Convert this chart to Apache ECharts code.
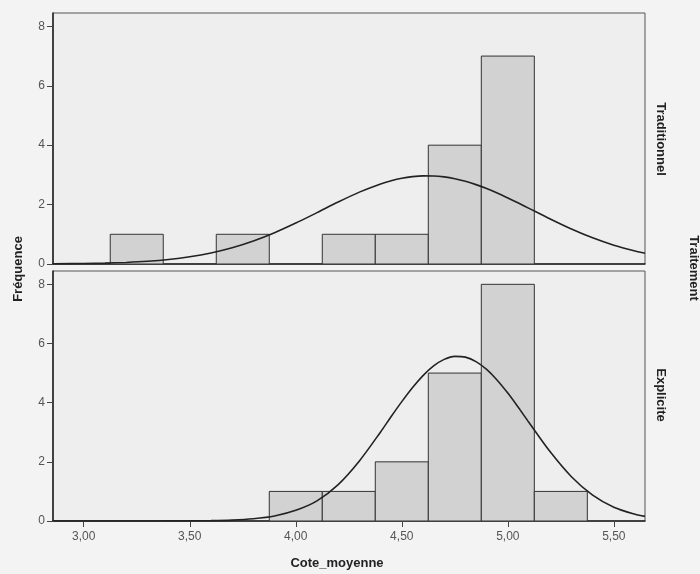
<!DOCTYPE html>
<html>
<head>
<meta charset="utf-8">
<script src="https://cdn.jsdelivr.net/npm/echarts@6/dist/echarts.min.js"></script>
<style>
html,body{margin:0;padding:0;background:#f3f3f3;}
#chart{width:700px;height:574px;}
</style>
</head>
<body>
<div id="chart"></div>
<script>
// Bin centres (Cote_moyenne) and counts for each panel
var binCenters = [3.25, 3.50, 3.75, 4.00, 4.25, 4.50, 4.75, 5.00, 5.25];
var binWidth = 0.25;
var countsTraditionnel = [1, 0, 1, 0, 1, 1, 4, 7, 0];
var countsExplicite    = [0, 0, 0, 1, 1, 2, 5, 8, 1];

// Normal curves
var curveX = [2.86, 3.0, 3.1, 3.2, 3.3, 3.4, 3.5, 3.6, 3.7, 3.8, 3.9, 4.0, 4.1, 4.2, 4.3, 4.4, 4.45, 4.5, 4.55, 4.6, 4.65, 4.7, 4.75, 4.8, 4.85, 4.9, 4.95, 5.0, 5.05, 5.1, 5.2, 5.3, 5.4, 5.5, 5.6, 5.647];
var curveTraditionnel = [0.006, 0.016, 0.029, 0.053, 0.091, 0.151, 0.242, 0.371, 0.546, 0.774, 1.053, 1.377, 1.729, 2.087, 2.420, 2.696, 2.803, 2.886, 2.941, 2.968, 2.965, 2.932, 2.871, 2.784, 2.672, 2.539, 2.389, 2.225, 2.052, 1.873, 1.516, 1.178, 0.880, 0.631, 0.435, 0.360];
var curveExplicite    = [0.000, 0.000, 0.000, 0.001, 0.001, 0.003, 0.005, 0.011, 0.031, 0.077, 0.170, 0.360, 0.680, 1.230, 2.030, 3.010, 3.532, 4.035, 4.505, 4.915, 5.243, 5.463, 5.564, 5.539, 5.388, 5.123, 4.760, 4.323, 3.836, 3.328, 2.337, 1.497, 0.875, 0.466, 0.227, 0.157];

var xTicks = [3.0, 3.5, 4.0, 4.5, 5.0, 5.5];
var yTicks = [0, 2, 4, 6, 8];
var xMin = 2.855, xMax = 5.647, yMax = 8.45;

var panelTitles = ['Traditionnel', 'Explicite'];
var xTitle = 'Cote_moyenne';
var yTitle = 'Fréquence';
var facetTitle = 'Traitement';

function pairs(xs, ys) { return xs.map(function (x, i) { return [x, ys[i]]; }); }
function barData(counts) { return binCenters.map(function (c, i) { return [c, counts[i]]; }); }

function renderBar(params, api) {
  var c = api.value(0), v = api.value(1);
  if (!v) return null;
  var p0 = api.coord([c - binWidth / 2, v]);
  var p1 = api.coord([c + binWidth / 2, 0]);
  return {
    type: 'rect',
    shape: { x: p0[0], y: p0[1], width: p1[0] - p0[0], height: p1[1] - p0[1] },
    style: { fill: '#d2d2d2', stroke: '#333', lineWidth: 1 }
  };
}

var labelStyle = { color: '#555', fontFamily: 'Arial, Liberation Sans', fontSize: 12 };

function xAxis(idx, showLabels) {
  return {
    type: 'value', gridIndex: idx, min: xMin, max: xMax,
    splitLine: { show: false },
    axisLine: { show: true, onZero: false, lineStyle: { color: '#222', width: 1.5 } },
    axisTick: { show: showLabels, length: 6, customValues: xTicks, lineStyle: { color: '#444' } },
    axisLabel: {
      show: showLabels, customValues: xTicks, margin: 10,
      formatter: function (v) { return v.toFixed(2).replace('.', ','); },
      color: labelStyle.color, fontFamily: labelStyle.fontFamily, fontSize: labelStyle.fontSize
    }
  };
}
function yAxis(idx) {
  return {
    type: 'value', gridIndex: idx, min: 0, max: yMax,
    splitLine: { show: false },
    axisLine: { show: true, lineStyle: { color: '#222', width: 1.5 } },
    axisTick: { show: true, length: 6, customValues: yTicks, lineStyle: { color: '#444' } },
    axisLabel: {
      customValues: yTicks, margin: 8,
      color: labelStyle.color, fontFamily: labelStyle.fontFamily, fontSize: labelStyle.fontSize
    }
  };
}

var chart = echarts.init(document.getElementById('chart'), null, { renderer: 'canvas' });
var titleFont = { fontFamily: 'Arial, Liberation Sans', fontWeight: 'bold', fontSize: 13, fill: '#222' };

chart.setOption({
  animation: false,
  backgroundColor: '#f3f3f3',
  grid: [
    { left: 53, top: 13, width: 592, height: 251, show: true, backgroundColor: '#eeeeee', borderColor: '#555', borderWidth: 1 },
    { left: 53, top: 271, width: 592, height: 250, show: true, backgroundColor: '#eeeeee', borderColor: '#555', borderWidth: 1 }
  ],
  xAxis: [xAxis(0, false), xAxis(1, true)],
  yAxis: [yAxis(0), yAxis(1)],
  series: [
    { type: 'custom', xAxisIndex: 0, yAxisIndex: 0, renderItem: renderBar, data: barData(countsTraditionnel), clip: true },
    { type: 'custom', xAxisIndex: 1, yAxisIndex: 1, renderItem: renderBar, data: barData(countsExplicite), clip: true },
    { type: 'line', xAxisIndex: 0, yAxisIndex: 0, data: pairs(curveX, curveTraditionnel), smooth: 0.3, showSymbol: false, lineStyle: { color: '#222', width: 1.6 }, z: 5 },
    { type: 'line', xAxisIndex: 1, yAxisIndex: 1, data: pairs(curveX, curveExplicite), smooth: 0.3, showSymbol: false, lineStyle: { color: '#222', width: 1.6 }, z: 5 }
  ],
  graphic: [
    { type: 'text', x: 337, y: 563, style: Object.assign({ text: xTitle, textAlign: 'center', textVerticalAlign: 'middle' }, titleFont) },
    { type: 'text', x: 18, y: 269, rotation: Math.PI / 2, style: Object.assign({ text: yTitle, textAlign: 'center', textVerticalAlign: 'middle' }, titleFont) },
    { type: 'text', x: 661, y: 139, rotation: -Math.PI / 2, style: Object.assign({ text: panelTitles[0], textAlign: 'center', textVerticalAlign: 'middle' }, titleFont) },
    { type: 'text', x: 661, y: 395, rotation: -Math.PI / 2, style: Object.assign({ text: panelTitles[1], textAlign: 'center', textVerticalAlign: 'middle' }, titleFont) },
    { type: 'text', x: 694, y: 268, rotation: -Math.PI / 2, style: Object.assign({ text: facetTitle, textAlign: 'center', textVerticalAlign: 'middle' }, titleFont) }
  ]
});
</script>
</body>
</html>
